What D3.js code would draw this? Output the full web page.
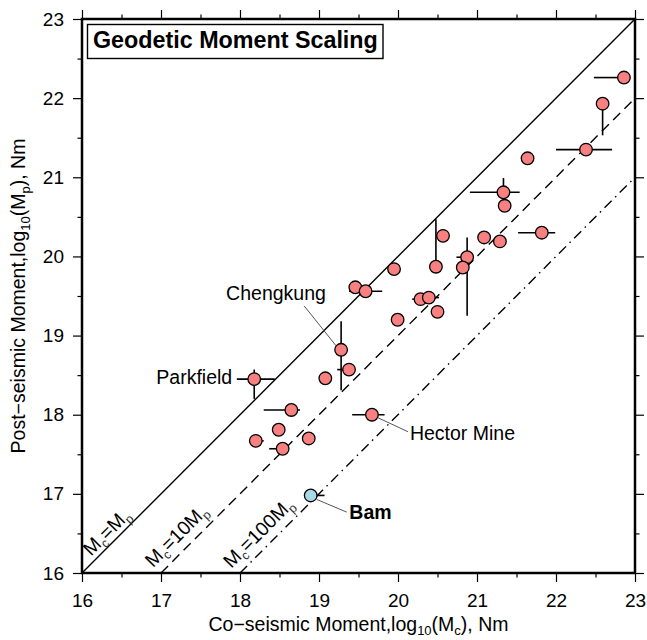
<!DOCTYPE html>
<html>
<head>
<meta charset="utf-8">
<script src="https://cdn.jsdelivr.net/npm/d3@7"></script>
<style>
  html, body { margin: 0; padding: 0; background: #fff; }
  svg { display: block; font-family: "Liberation Sans", Arial, Helvetica, sans-serif; }
</style>
</head>
<body>
<svg id="chart" width="647" height="640"></svg>
<script>
// Geodetic moment scaling: co-seismic vs post-seismic moment (log10 Nm)
const coseismic   = [22.86, 22.59, 22.38, 21.64, 21.335, 21.35, 21.82, 20.57, 20.48, 21.09, 21.29,
                     20.875, 20.82, 19.95, 19.46, 19.59, 20.285, 20.39, 20.50, 19.995,
                     19.28, 19.38, 19.08, 18.18, 18.65, 18.49, 18.20, 18.54, 18.87, 19.67, 18.895];
const postseismic = [22.26, 21.93, 21.35, 21.24, 20.81, 20.64, 20.30, 20.26, 19.87, 20.24, 20.19,
                     19.99, 19.86, 19.84, 19.61, 19.56, 19.46, 19.48, 19.30, 19.20,
                     18.82, 18.57, 18.46, 18.45, 18.06, 17.81, 17.67, 17.57, 17.70, 18.00, 16.98];
// Error extents (null where no bar is drawn on that side)
const coLow    = [22.48, null, 22.00, null, 20.91, null, 21.52, null, null, null, null,
                  20.74, null, null, null, 19.38, 20.18, null, null, null,
                  null, 19.23, null, 17.96, 18.30, null, null, 18.37, null, 19.42, null];
const coHigh   = [null, null, 22.71, null, 21.54, null, 21.99, null, null, null, null,
                  null, null, null, null, 19.80, null, 20.52, null, null,
                  null, null, null, 18.44, 18.76, null, 18.30, null, null, 19.83, 19.07];
const postLow  = [null, 21.53, null, null, null, null, null, null, null, null, null,
                  19.25, null, null, null, null, null, null, null, null,
                  18.31, null, null, 18.20, null, null, null, null, null, null, null];
const postHigh = [null, null, null, null, 20.99, null, null, null, 20.47, null, null,
                  20.24, null, null, null, null, null, null, null, null,
                  19.18, null, null, 18.57, null, null, null, null, null, null, null];
const eventNames = ["", "", "", "", "", "", "", "", "", "", "",
                    "", "", "", "", "", "", "", "", "",
                    "Chengkung", "", "", "Parkfield", "", "", "", "", "", "Hector Mine", "Bam"];
const majorTicks = [16, 17, 18, 19, 20, 21, 22, 23];
const minorTicks = [16.5, 17.5, 18.5, 19.5, 20.5, 21.5, 22.5];
// Reference ratios: Mc = ratio * Mp  ->  log Mp = log Mc - log10(ratio)
const ratioOffsets = [0, 1, 2];

const svg = d3.select("#chart");
const x = d3.scaleLinear().domain([16, 23]).range([82, 635]);
const y = d3.scaleLinear().domain([16, 23]).range([573, 19]);

const BLACK = "#000";
const FILL = "#f98080";
const BAM_FILL = "#a9d8e6";

// Reference lines
const lineStyles = [null, "10,6", "10,5,1.5,5"];
ratioOffsets.forEach((k, i) => {
  svg.append("line")
    .attr("x1", x(16 + k)).attr("y1", y(16))
    .attr("x2", x(23)).attr("y2", y(23 - k))
    .attr("stroke", BLACK).attr("stroke-width", 1.4)
    .attr("stroke-dasharray", lineStyles[i]);
});

// Line labels, rotated along the lines
const lineLabels = [
  {k: 0, along: 16.16, off: 5, parts: [["M"], ["c", 1], ["=M"], ["p", 1]]},
  {k: 1, along: 16.98, off: 9, parts: [["M"], ["c", 1], ["=10M"], ["p", 1]]},
  {k: 2, along: 17.97, off: 9, parts: [["M"], ["c", 1], ["=100M"], ["p", 1]]}
];
lineLabels.forEach(l => {
  const px = x(l.along), py = y(l.along - l.k);
  const ox = px - l.off / Math.SQRT2, oy = py - l.off / Math.SQRT2;
  const t = svg.append("text")
    .attr("transform", `translate(${ox},${oy}) rotate(-45)`)
    .attr("font-size", 19.5).attr("fill", BLACK);
  let shifted = false;
  l.parts.forEach(p => {
    const ts = t.append("tspan").text(p[0]);
    if (p[1]) { ts.attr("font-size", 12.5).attr("dy", 4.5).attr("fill", "#333"); shifted = true; }
    else if (shifted) { ts.attr("dy", -4.5); shifted = false; }
  });
});

// Annotation leaders and labels
const annot = {
  "Chengkung":   {tx: -115, ty: -50, anchor: "start", bold: false, leader: [-37, -44, -5, -4]},
  "Parkfield":   {tx: -22, ty: 5, anchor: "end", bold: false, leader: null},
  "Hector Mine": {tx: 38, ty: 25, anchor: "start", bold: false, leader: [6, 3, 36, 17]},
  "Bam":         {tx: 38.6, ty: 23.3, anchor: "start", bold: true, leader: [6, 4, 36, 16.7]}
};

const idx = d3.range(coseismic.length);

// Error bars
const eb = svg.append("g").attr("stroke", BLACK).attr("stroke-width", 1.6);
idx.forEach(i => {
  const cx = coseismic[i], cy = postseismic[i];
  if (coLow[i] !== null || coHigh[i] !== null) {
    eb.append("line")
      .attr("x1", x(coLow[i] ?? cx)).attr("x2", x(coHigh[i] ?? cx))
      .attr("y1", y(cy)).attr("y2", y(cy));
  }
  if (postLow[i] !== null || postHigh[i] !== null) {
    eb.append("line")
      .attr("x1", x(cx)).attr("x2", x(cx))
      .attr("y1", y(postLow[i] ?? cy)).attr("y2", y(postHigh[i] ?? cy));
  }
});

// Leader lines
idx.filter(i => eventNames[i] && annot[eventNames[i]].leader).forEach(i => {
  const a = annot[eventNames[i]], px = x(coseismic[i]), py = y(postseismic[i]);
  svg.append("line")
    .attr("x1", px + a.leader[0]).attr("y1", py + a.leader[1])
    .attr("x2", px + a.leader[2]).attr("y2", py + a.leader[3])
    .attr("stroke", "#555").attr("stroke-width", 1);
});

// Event circles
svg.append("g").selectAll("circle").data(idx).join("circle")
  .attr("cx", i => x(coseismic[i]))
  .attr("cy", i => y(postseismic[i]))
  .attr("r", 6.3)
  .attr("fill", i => eventNames[i] === "Bam" ? BAM_FILL : FILL)
  .attr("stroke", BLACK).attr("stroke-width", 1.3);

// Event labels
idx.filter(i => eventNames[i]).forEach(i => {
  const a = annot[eventNames[i]], px = x(coseismic[i]), py = y(postseismic[i]);
  svg.append("text")
    .attr("x", px + a.tx).attr("y", py + a.ty)
    .attr("text-anchor", a.anchor)
    .attr("font-size", 19.5)
    .attr("font-weight", a.bold ? "bold" : "normal")
    .text(eventNames[i]);
});

// Axes: ticks outward on all four sides
function styleAxis(g) {
  g.select(".domain").remove();
  g.selectAll(".tick line").attr("stroke", BLACK).attr("stroke-width", 1.2);
  g.selectAll(".tick text").attr("fill", BLACK).attr("font-size", 19)
    .attr("font-family", '"Liberation Sans", Arial, Helvetica, sans-serif');
}
const fmt = d3.format("d");
svg.append("g").attr("transform", `translate(0,${y(16)})`)
  .call(d3.axisBottom(x).tickValues(majorTicks).tickSize(9).tickPadding(11.5).tickFormat(fmt)).call(styleAxis);
svg.append("g").attr("transform", `translate(0,${y(16)})`)
  .call(d3.axisBottom(x).tickValues(minorTicks).tickSize(4.5).tickFormat("")).call(styleAxis);
svg.append("g").attr("transform", `translate(${x(16)},0)`)
  .call(d3.axisLeft(y).tickValues(majorTicks).tickSize(9).tickPadding(9).tickFormat(fmt)).call(styleAxis);
svg.append("g").attr("transform", `translate(${x(16)},0)`)
  .call(d3.axisLeft(y).tickValues(minorTicks).tickSize(4.5).tickFormat("")).call(styleAxis);
svg.append("g").attr("transform", `translate(0,${y(23)})`)
  .call(d3.axisTop(x).tickValues(majorTicks).tickSize(9).tickFormat("")).call(styleAxis);
svg.append("g").attr("transform", `translate(0,${y(23)})`)
  .call(d3.axisTop(x).tickValues(minorTicks).tickSize(4.5).tickFormat("")).call(styleAxis);
svg.append("g").attr("transform", `translate(${x(23)},0)`)
  .call(d3.axisRight(y).tickValues(majorTicks).tickSize(9).tickFormat("")).call(styleAxis);
svg.append("g").attr("transform", `translate(${x(23)},0)`)
  .call(d3.axisRight(y).tickValues(minorTicks).tickSize(4.5).tickFormat("")).call(styleAxis);

// Frame
svg.append("rect")
  .attr("x", x(16)).attr("y", y(23))
  .attr("width", x(23) - x(16)).attr("height", y(16) - y(23))
  .attr("fill", "none").attr("stroke", BLACK).attr("stroke-width", 2.5);

// Axis titles
const xt = svg.append("text")
  .attr("x", (x(16) + x(23)) / 2).attr("y", 631)
  .attr("text-anchor", "middle").attr("font-size", 19.5);
xt.append("tspan").text("Co\u2212seismic Moment,log");
xt.append("tspan").attr("font-size", 13).attr("dy", 4).text("10");
xt.append("tspan").attr("dy", -4).text("(M");
xt.append("tspan").attr("font-size", 13).attr("dy", 4).text("c");
xt.append("tspan").attr("dy", -4).text("), Nm");

const yt = svg.append("text")
  .attr("transform", `translate(25,${(y(16) + y(23)) / 2}) rotate(-90)`)
  .attr("text-anchor", "middle").attr("font-size", 19.5);
yt.append("tspan").text("Post\u2212seismic Moment,log");
yt.append("tspan").attr("font-size", 13).attr("dy", 5).text("10");
yt.append("tspan").attr("dy", -5).text("(M");
yt.append("tspan").attr("font-size", 13).attr("dy", 5).text("p");
yt.append("tspan").attr("dy", -5).text("), Nm");

// Title box
svg.append("rect")
  .attr("x", 87.5).attr("y", 24.5).attr("width", 295.5).attr("height", 34)
  .attr("fill", "#fff").attr("stroke", BLACK).attr("stroke-width", 1.4);
svg.append("text")
  .attr("x", 93).attr("y", 47.5).attr("font-size", 23.3).attr("font-weight", "bold")
  .text("Geodetic Moment Scaling");
</script>
</body>
</html>
